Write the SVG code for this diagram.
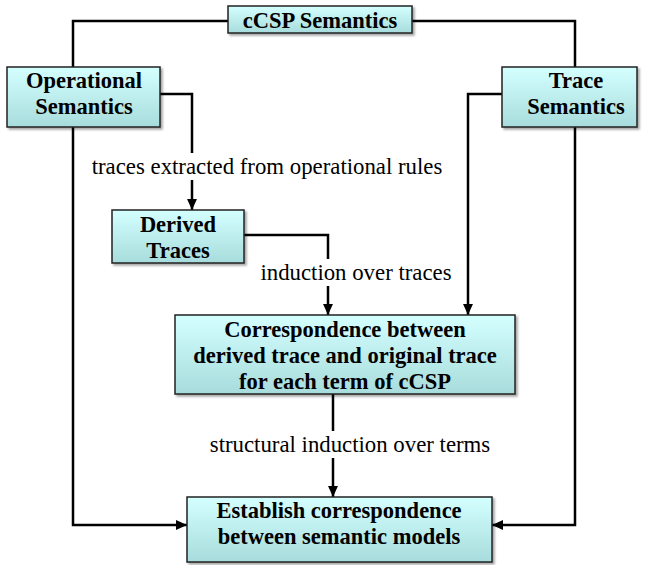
<svg xmlns="http://www.w3.org/2000/svg" width="645" height="565" viewBox="0 0 645 565">
<defs>
<linearGradient id="g" x1="0" y1="0" x2="0" y2="1">
<stop offset="0" stop-color="#d4ffff"/>
<stop offset="1" stop-color="#a8dcdc"/>
</linearGradient>
<marker id="a" viewBox="0 0 10 10" refX="10" refY="5" markerWidth="11" markerHeight="11" markerUnits="userSpaceOnUse" orient="auto">
<path d="M0,0.5 L10,5 L0,9.5 z" fill="#000"/>
</marker>
<filter id="s" x="-10%" y="-10%" width="120%" height="130%">
<feDropShadow dx="2" dy="2" stdDeviation="0.8" flood-color="#000" flood-opacity="0.35"/>
</filter>
</defs>
<style>
.box{fill:url(#g);stroke:#222;stroke-width:1.5;filter:url(#s)}
.bt{font-family:"Liberation Serif","Times New Roman",serif;font-weight:bold;font-size:22.5px;text-anchor:middle;fill:#000}
.lt{font-family:"Liberation Serif","Times New Roman",serif;font-size:22.8px;text-anchor:middle;fill:#000}
.c{fill:none;stroke:#000;stroke-width:2.5}
.ca{fill:none;stroke:#000;stroke-width:2.5;marker-end:url(#a)}
</style>
<rect width="645" height="565" fill="#fff"/>
<g id="connectors">
<polyline class="c" points="228,21 73,21 73,67"/>
<polyline class="c" points="412,21 575,21 575,67"/>
<polyline class="ca" points="160,94 192,94 192,210"/>
<polyline class="ca" points="244,235 328,235 328,315"/>
<polyline class="ca" points="502,94 468,94 468,315"/>
<polyline class="ca" points="333,394 333,497"/>
<polyline class="ca" points="73,127 73,525 187,525"/>
<polyline class="ca" points="575,127 575,525 492,525"/>
</g>
<g id="labels">
<rect x="86" y="153" width="364" height="27" fill="#fff"/>
<text class="lt" x="267" y="174">traces extracted from operational rules</text>
<rect x="258" y="259" width="196" height="27" fill="#fff"/>
<text class="lt" x="356" y="280">induction over traces</text>
<rect x="208" y="431" width="283" height="27" fill="#fff"/>
<text class="lt" x="350" y="452">structural induction over terms</text>
</g>
<g id="cCSP">
<rect class="box" x="228" y="6" width="184" height="27"/>
<text class="bt" x="320" y="28">cCSP Semantics</text>
</g>
<g id="operational">
<rect class="box" x="7" y="67" width="153" height="60"/>
<text class="bt" x="84" y="88">Operational</text>
<text class="bt" x="84" y="114">Semantics</text>
</g>
<g id="trace">
<rect class="box" x="502" y="67" width="135" height="60"/>
<text class="bt" x="576" y="88">Trace</text>
<text class="bt" x="576" y="114">Semantics</text>
</g>
<g id="derived">
<rect class="box" x="112" y="210" width="132" height="53"/>
<text class="bt" x="178" y="232">Derived</text>
<text class="bt" x="178" y="258">Traces</text>
</g>
<g id="correspondence">
<rect class="box" x="175" y="315" width="340" height="79"/>
<text class="bt" x="345" y="337">Correspondence between</text>
<text class="bt" x="345" y="363">derived trace and original trace</text>
<text class="bt" x="345" y="389">for each term of cCSP</text>
</g>
<g id="establish">
<rect class="box" x="187" y="497" width="305" height="65"/>
<text class="bt" x="339" y="518">Establish correspondence</text>
<text class="bt" x="339" y="544">between semantic models</text>
</g>
</svg>
